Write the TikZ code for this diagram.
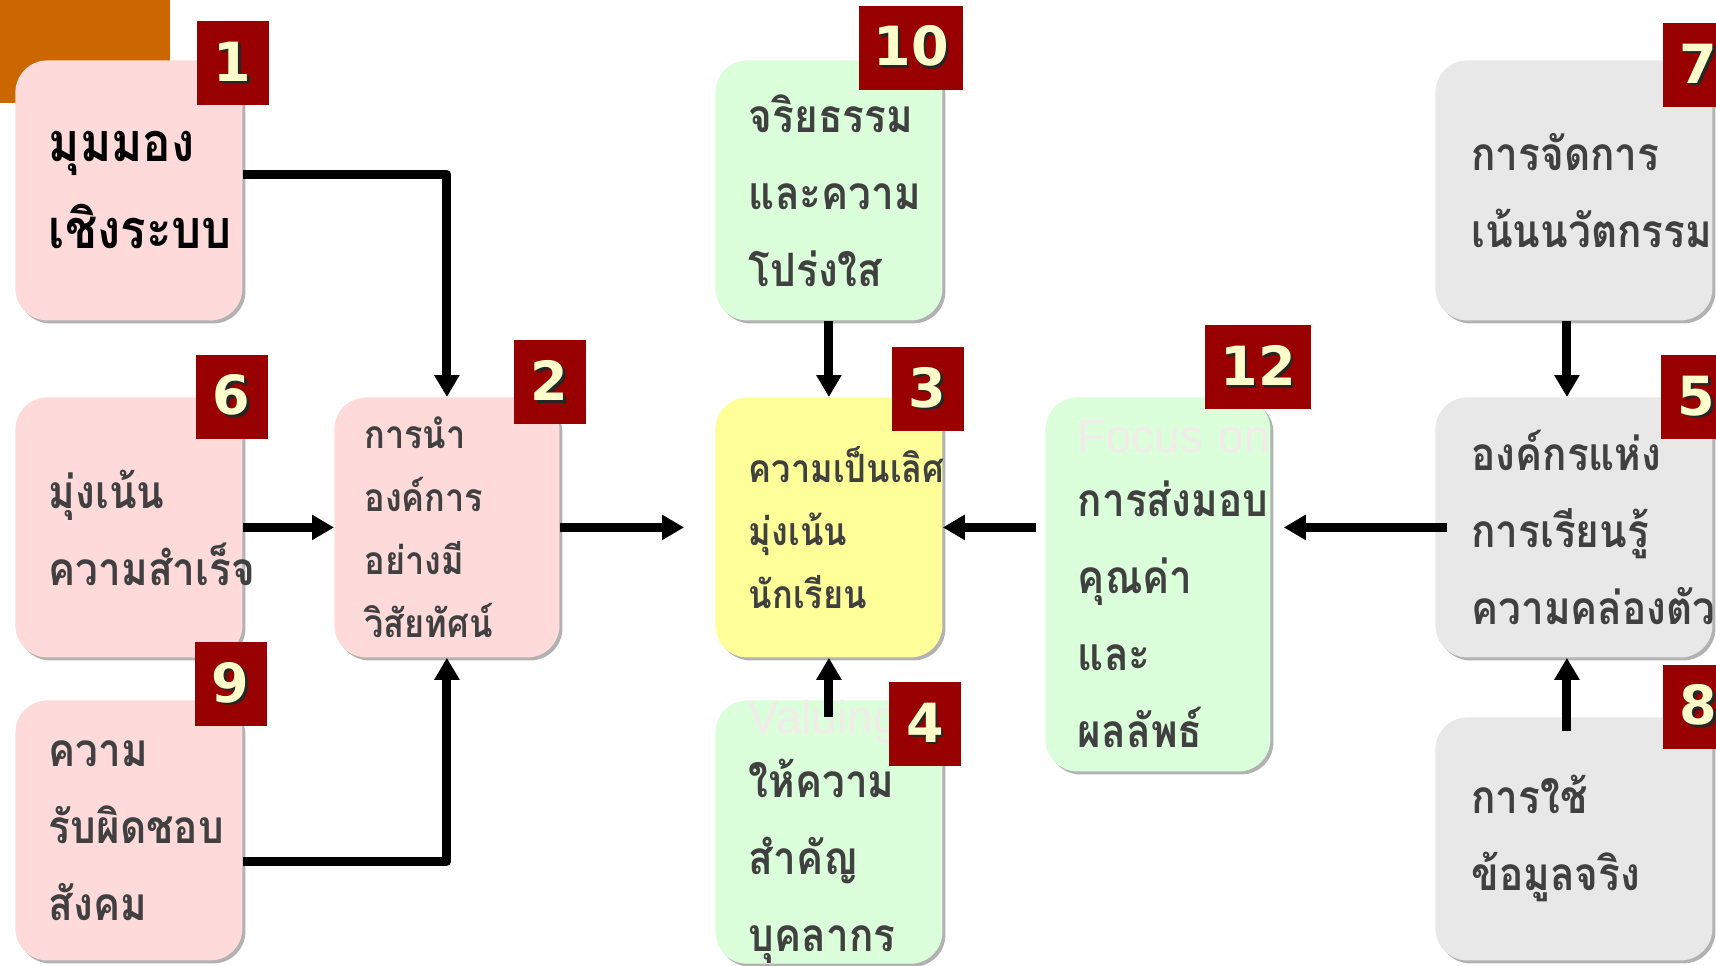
\documentclass[tikz,border=0pt]{standalone}
\usepackage{fontspec}
\usetikzlibrary{arrows.meta,shadows}
\newfontfamily\thaifont[Script=Thai, FakeStretch=0.88]{Loma}
\newfontfamily\latinfont{Liberation Sans}
\newfontfamily\numfont{DejaVu Sans}
\definecolor{barorange}{HTML}{CC6600}
\definecolor{boxpink}{HTML}{FFDADA}
\definecolor{boxgreen}{HTML}{DAFFDA}
\definecolor{boxyellow}{HTML}{FFFF99}
\definecolor{boxgray}{HTML}{E8E8E8}
\definecolor{textgray}{HTML}{404040}
\definecolor{badgered}{HTML}{990000}
\definecolor{numcream}{HTML}{FFFFCC}
\definecolor{faint}{HTML}{F3EAEA}
\newcommand\shnum[1]{\makebox[0pt][l]{\hspace{1.2pt}\raisebox{-1.2pt}{\color{black!85}#1}}#1}
\newcommand\ghostline[1]{\makebox[0pt][l]{\latinfont\mdseries\color{faint}#1}}
\begin{document}
\begin{tikzpicture}[x=0.5pt, y=-0.5pt, line join=round, >={Triangle[length=11pt,width=12pt]},
  box/.style={rounded corners=16pt, anchor=north west, inner sep=0pt, minimum width=113.5pt,
    minimum height=130pt, text width=80pt, align=left, text=textgray,
    drop shadow={shadow xshift=1.5pt, shadow yshift=-1.5pt, fill=black, opacity=0.3},
    font=\thaifont\bfseries\fontsize{23pt}{38.5pt}\selectfont},
  small/.style={font=\thaifont\bfseries\fontsize{19.5pt}{31.5pt}\selectfont},
  pinkbox/.style={box, fill=boxpink},
  greenbox/.style={box, fill=boxgreen},
  yellowbox/.style={box, fill=boxyellow},
  graybox/.style={box, fill=boxgray, minimum width=138.5pt, text width=102.5pt},
  badge/.style={fill=badgered, minimum width=36pt, minimum height=42pt, inner sep=0pt,
    text=numcream, font=\numfont\bfseries\fontsize{27pt}{27pt}\selectfont},
  arr/.style={->, line width=4.5pt}]
\useasboundingbox (0,0) rectangle (1716,965);
\clip (0,0) rectangle (1716,965);
\fill[barorange] (0,0) rectangle (170,103);

\node[pinkbox, text=black, font=\thaifont\bfseries\fontsize{27pt}{43.5pt}\selectfont] (sys) at (15,60) {มุมมอง\\เชิงระบบ};
\node[pinkbox] (succ) at (15,397) {มุ่งเน้น\\ความสำเร็จ};
\node[pinkbox] (resp) at (15,700) {ความ\\รับผิดชอบ\\สังคม};
\node[pinkbox, small, minimum width=112.5pt, text width=82.5pt] (lead) at (334,397) {การนำ\\องค์การ\\อย่างมี\\วิสัยทัศน์};
\node[greenbox] (ethic) at (715,60) {จริยธรรม\\และความ\\โปร่งใส};
\node[yellowbox, small] (excel) at (715,397) {ความเป็นเลิศ\\มุ่งเน้น\\นักเรียน};
\node[greenbox] (value) at (715,700) {\ghostline{Valuing}\\[-6.5pt]ให้ความ\\สำคัญ\\บุคลากร};
\node[greenbox, minimum width=112.5pt, minimum height=187pt] (deliv) at (1045,397) {\ghostline{Focus on}\\[-6.5pt]การส่งมอบ\\คุณค่า\\และ\\ผลลัพธ์};
\node[graybox] (innov) at (1435,60) {การจัดการ\\เน้นนวัตกรรม};
\node[graybox] (learn) at (1435,397) {องค์กรแห่ง\\การเรียนรู้\\ความคล่องตัว};
\node[graybox, minimum height=121.5pt] (data) at (1435,717) {การใช้\\ข้อมูลจริง};

\draw[arr] ([yshift=8pt]sys.east) -| (lead.north);
\draw[arr] (succ.east) -- (lead.west);
\draw[arr] ([yshift=-15.5pt]resp.east) -| (lead.south);
\draw[arr, shorten >=15.5pt] (lead.east) -- (excel.west);
\draw[arr] (ethic.south) -- (excel.north);
\draw[arr, shorten <=-8.5pt] (value.north) -- (excel.south);
\draw[arr, shorten <=4.5pt] (deliv.west |- excel.east) -- (excel.east);
\draw[arr] ([xshift=-3.5pt]innov.south) -- ([xshift=-3.5pt]learn.north);
\draw[arr, shorten <=-6pt, shorten >=6.5pt] (learn.west) -- (learn.west -| deliv.east);
\draw[arr, shorten <=-7pt] ([xshift=-3.5pt]data.north) -- ([xshift=-3.5pt]learn.south);

\node[badge] (n1) at (232.5,63) {\shnum{1}};
\node[badge] (n6) at (231.5,396.5) {\shnum{6}};
\node[badge] (n9) at (230.5,684) {\shnum{9}};
\node[badge] (n2) at (549.5,382) {\shnum{2}};
\node[badge, minimum width=52pt] (n10) at (911,47.5) {\shnum{10}};
\node[badge] (n3) at (927.5,389) {\shnum{3}};
\node[badge] (n4) at (925,724) {\shnum{4}};
\node[badge, minimum width=53pt] (n12) at (1258,367) {\shnum{12}};
\node[badge] (n7) at (1698.5,65) {\shnum{7}};
\node[badge] (n5) at (1696.5,397) {\shnum{5}};
\node[badge] (n8) at (1698.5,706.5) {\shnum{8}};
\end{tikzpicture}
\end{document}
